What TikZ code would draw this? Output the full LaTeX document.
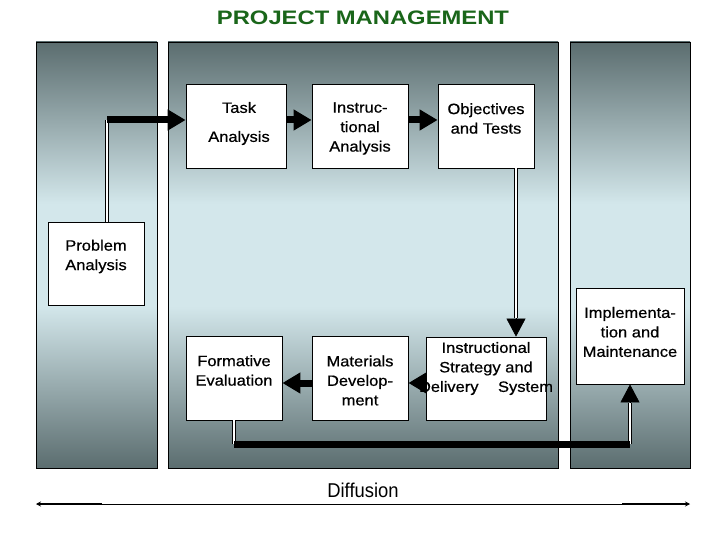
\documentclass[tikz,border=0pt]{standalone}
\usepackage{fontspec}
\setmainfont{Liberation Sans}
\newfontfamily\labfont[FakeStretch=1.1,FakeBold=0.6]{Liberation Sans}
\newfontfamily\ttlfont[FakeStretch=1.22]{Liberation Sans}
\newfontfamily\difffont[FakeStretch=0.92]{Liberation Sans}
\usetikzlibrary{arrows.meta}
\definecolor{pdark}{HTML}{5B6D6F}
\definecolor{plight}{HTML}{D3E7EB}
\definecolor{ttlgreen}{HTML}{1A661A}
\pgfdeclareverticalshading{panelsh}{100bp}{color(0bp)=(pdark); color(25bp)=(pdark); color(44bp)=(plight); color(56bp)=(plight); color(75bp)=(pdark); color(100bp)=(pdark)}
\tikzset{
  panel/.style={shading=panelsh, draw=black, line width=0.8pt},
  box/.style={draw=black, fill=white, line width=0.8pt, inner sep=0pt, anchor=center},
  lab/.style={font=\labfont\fontsize{15}{19.5}\selectfont, align=center, inner sep=0pt, text=black},
  dbl/.style={draw=black, line width=1.5pt, double=white, double distance=1.6pt},
  thickarr/.style={draw=black, line width=7pt, -{Triangle[length=18pt,width=20pt]}},
  thickline/.style={draw=black, line width=7pt},
  headonly/.style={draw=black, line width=0.6pt, -{Triangle[length=18pt,width=19pt]}},
}
\begin{document}
\begin{tikzpicture}[x=1pt,y=-1pt]
\useasboundingbox[fill=white] (0,0) rectangle (720,540);
% title
\node[font=\ttlfont\bfseries\fontsize{19.5}{23}\selectfont, text=ttlgreen, inner sep=0pt] (ttl) at (363,18) {PROJECT MANAGEMENT};
% panels
\shadedraw[panel] (36,42) rectangle (157,468);
\shadedraw[panel] (168,42) rectangle (558,468);
\shadedraw[panel] (570,42) rectangle (690,468);
% boxes
\node[box, minimum width=100pt, minimum height=84pt] (task) at (236,126) {};
\node[box, minimum width=96pt, minimum height=84pt] (instr) at (360,126) {};
\node[box, minimum width=96pt, minimum height=84pt] (obj) at (486,126) {};
\node[box, minimum width=96pt, minimum height=83pt] (prob) at (96,263.5) {};
\node[box, minimum width=96pt, minimum height=84pt] (form) at (234,378) {};
\node[box, minimum width=96pt, minimum height=84pt] (mat) at (360,378) {};
\node[box, minimum width=120pt, minimum height=83pt] (strat) at (486.5,378.5) {};
\node[box, minimum width=108pt, minimum height=96pt] (impl) at (630,336) {};
% connectors
\coordinate (c1) at (107,120);
\coordinate (c2) at (516,318);
\coordinate (c3) at (0,383);
\coordinate (c4) at (234,444);
\coordinate (c5) at (630,444);
\coordinate (c6) at (630,403);
\draw[dbl] (prob.north -| c1) -- (c1);
\draw[thickarr] (c1) -- (task.west |- c1);
\draw[thickarr] (task.east |- c1) -- (instr.west |- c1);
\draw[thickarr] (instr.east |- c1) -- (obj.west |- c1);
\draw[dbl] (obj.south -| c2) -- (c2);
\draw[headonly] (c2) -- (strat.north -| c2);
\draw[dbl] (form.south -| c4) -- (c4);
\draw[dbl] (c5) -- (c6);
\draw[thickline] (c4) -- (c5);
\draw[headonly] (c6) -- (impl.south -| c6);
% texts
\node[lab] (taskt) at (239,123.5) {Task\\[9.5pt]Analysis};
\node[lab] (instrt) at (360,128.5) {Instruc-\\tional\\Analysis};
\node[lab] (objt) at (486,118.5) {Objectives\\and Tests};
\node[lab] (probt) at (96,256.5) {Problem\\Analysis};
\node[lab] (formt) at (234,370.5) {Formative\\Evaluation};
\node[lab] (matt) at (360,380.5) {Materials\\Develop-\\ment};
\node[lab] (stratt) at (486,368.5) {Instructional\\Strategy and\\Delivery\hspace{1.3em}System};
\node[lab] (implt) at (630,332) {Implementa-\\tion and\\Maintenance};
\draw[thickarr] (strat.west |- c3) -- (mat.east |- c3);
\draw[thickarr] (mat.west |- c3) -- (form.east |- c3);
% diffusion
\node[font=\difffont\fontsize{20}{24}\selectfont, inner sep=0pt] (diff) at (363,490) {Diffusion};
\coordinate (dl) at (36,504);
\coordinate (dr) at (690,504);
\coordinate (dl2) at (102,504);
\coordinate (dr2) at (622,504);
\draw[line width=1pt, {Stealth[length=5pt,width=5pt]}-{Stealth[length=5pt,width=5pt]}] (dl) -- (dr);
\draw[line width=2pt] ([xshift=3pt]dl) -- (dl2);
\draw[line width=2pt] (dr2) -- ([xshift=-3pt]dr);
\end{tikzpicture}
\end{document}
